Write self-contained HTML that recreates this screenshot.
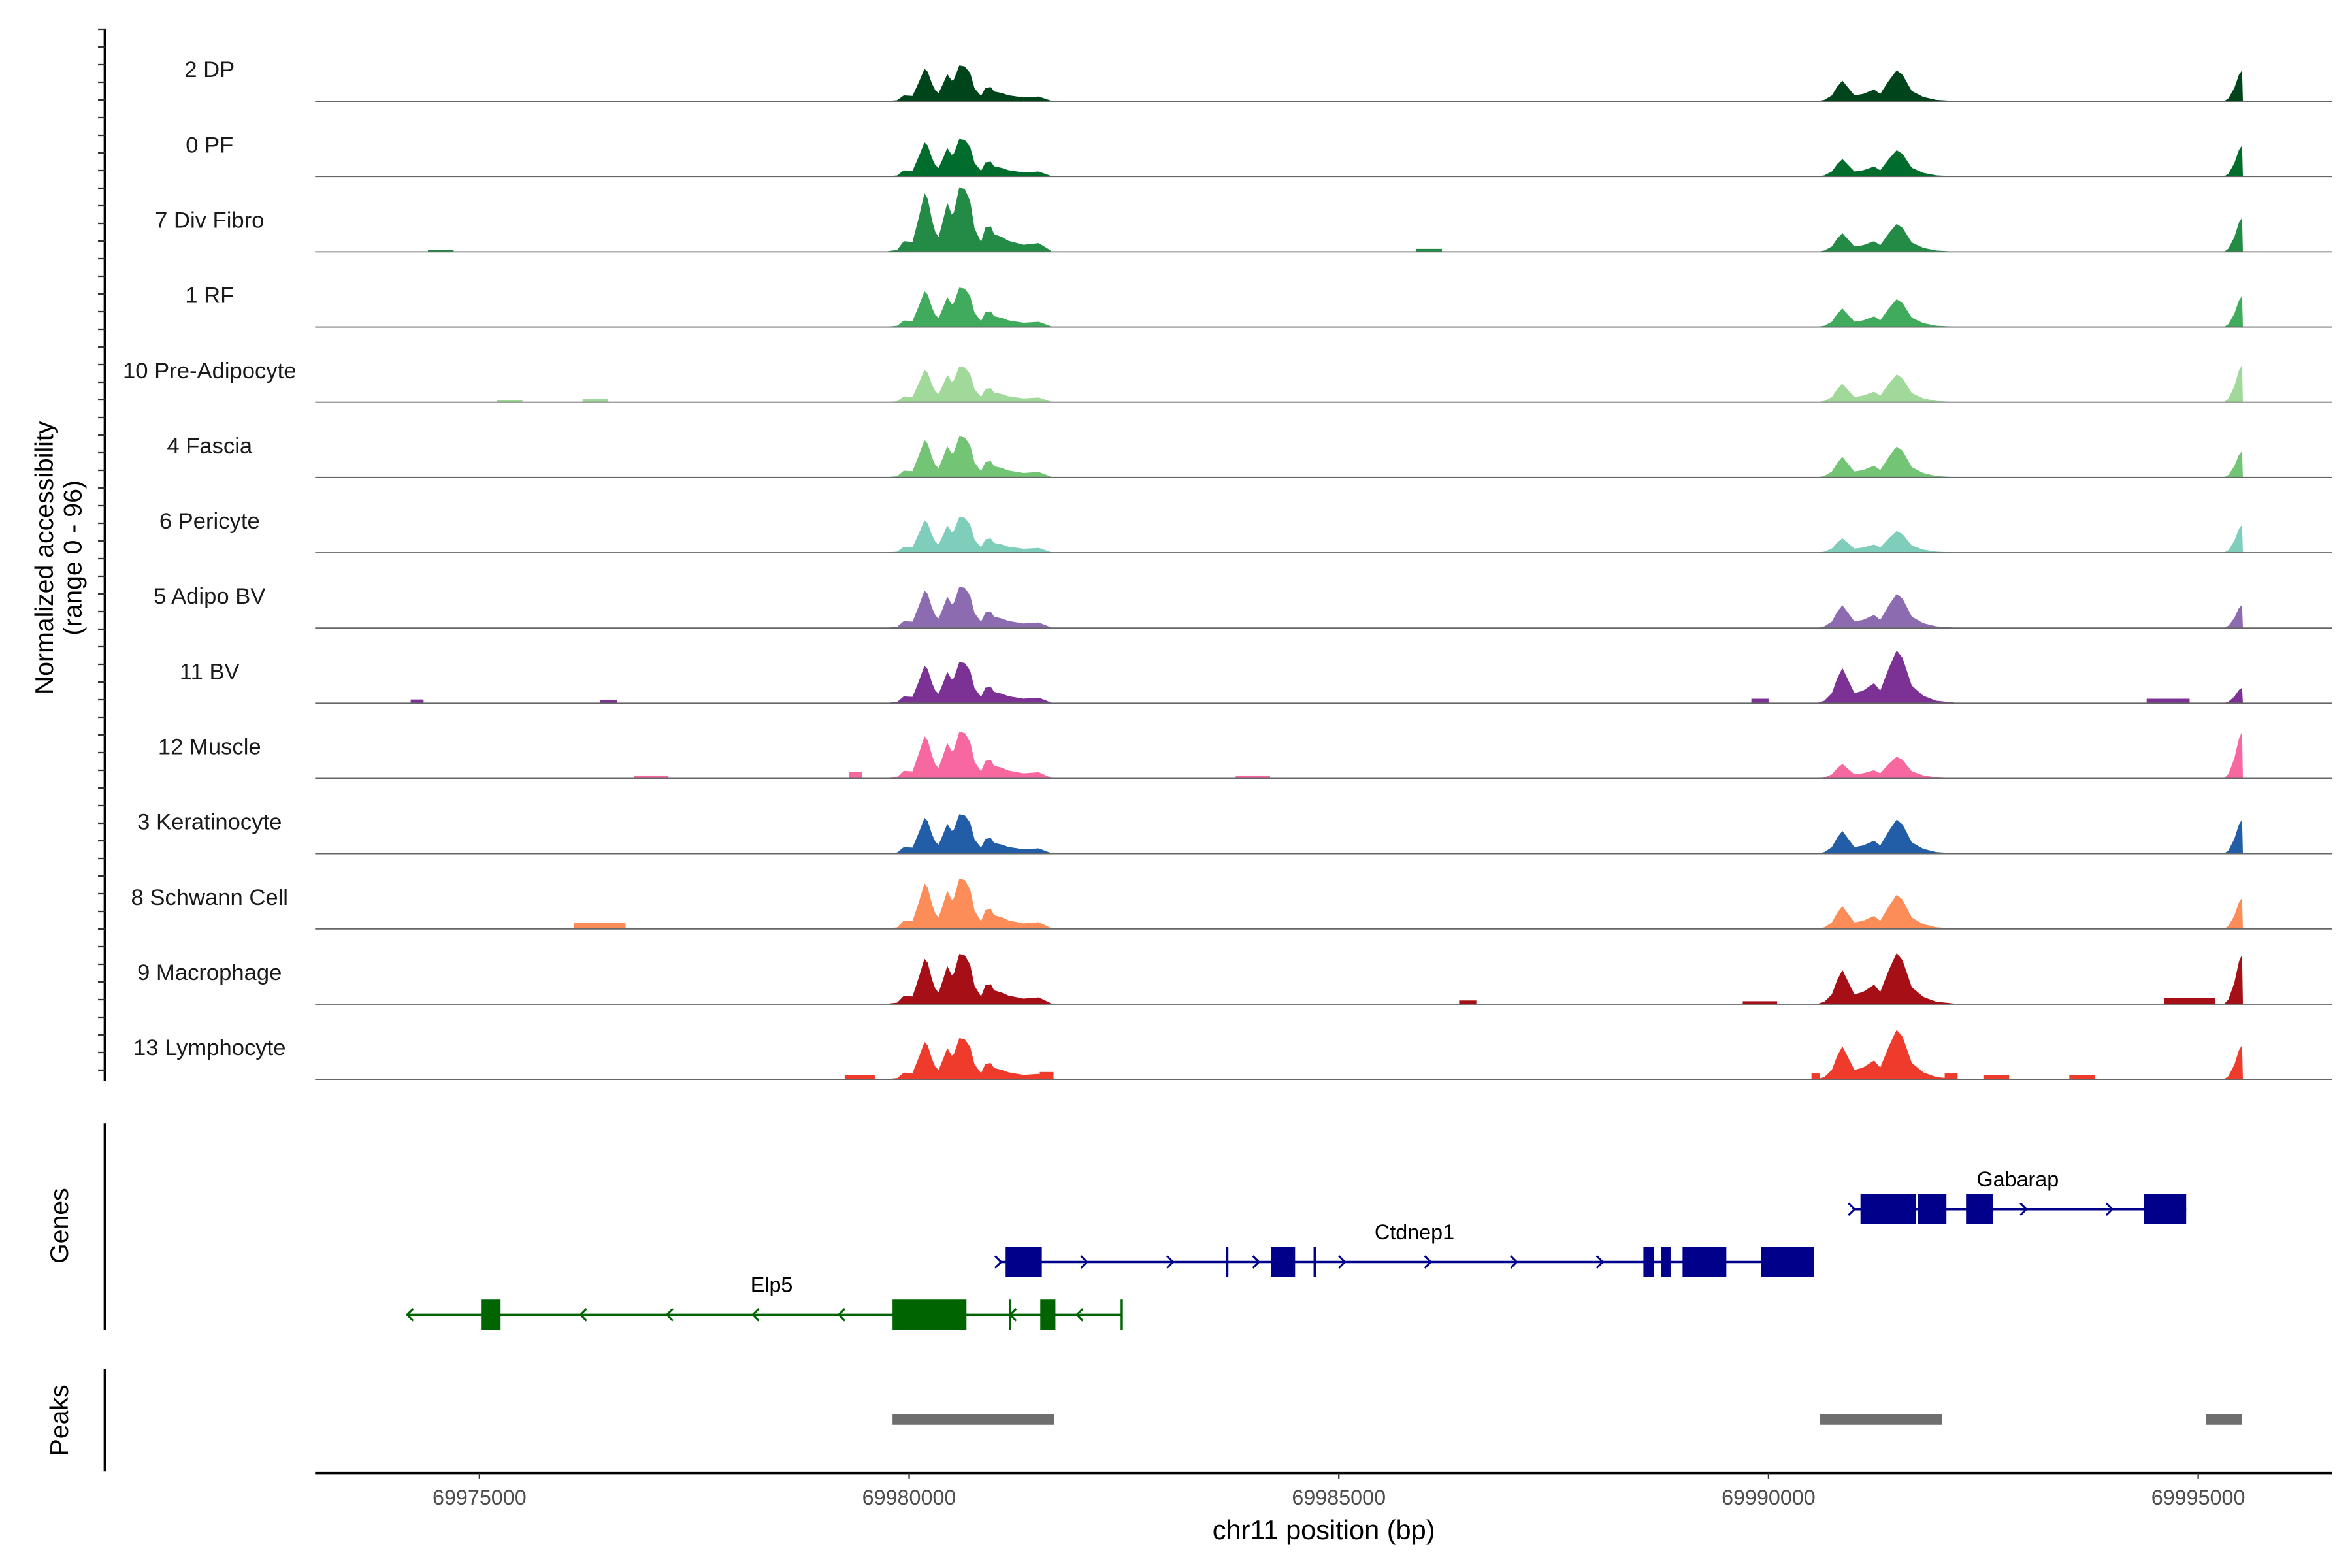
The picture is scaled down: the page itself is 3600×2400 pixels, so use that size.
<!DOCTYPE html>
<html><head><meta charset="utf-8"><style>
html,body{margin:0;padding:0;background:#fff}
svg{display:block;font-family:"Liberation Sans",Arial,sans-serif}
</style></head><body>
<svg id="chart" width="3600" height="2400" viewBox="0 0 1560 1040" xmlns="http://www.w3.org/2000/svg">
<g id="tracks"></g>
<g id="left"></g>
<g id="genes"></g>
<g id="peaks"></g>
<g id="xaxis"></g>
</svg>
<script>
const NS="http://www.w3.org/2000/svg";
// ---- data ----
const trackNames=["2 DP","0 PF","7 Div Fibro","1 RF","10 Pre-Adipocyte","4 Fascia","6 Pericyte","5 Adipo BV","11 BV","12 Muscle","3 Keratinocyte","8 Schwann Cell","9 Macrophage","13 Lymphocyte"];
const trackColors=["#00441b","#006d2c","#238b45","#41ab5d","#a1d99b","#74c476","#7fcdbb","#8c6bb1","#7b3294","#f768a1","#225ea8","#fc8d59","#a50f15","#ef3b2c"];
const cluster1Scale=[1,1.05,1.8,1.1,1.0,1.15,1.0,1.15,1.15,1.3,1.1,1.4,1.4,1.15];
const cluster2Scale=[1,0.85,0.9,0.9,0.9,1.0,0.7,1.1,1.7,0.7,1.1,1.1,1.65,1.6];
const endScale=[1,1,1.1,1,1.2,0.85,0.9,0.75,0.5,1.5,1.1,1,1.6,1.1];
const cluster1Pos=[69979700,69979861,69979937,69980039,69980115,69980178,69980216,69980267,69980305,69980343,69980394,69980444,69980495,69980520,69980584,69980647,69980710,69980761,69980837,69980888,69980951,69980989,69981078,69981154,69981331,69981508,69981635,69981661];
const cluster1Val=[0,1.5,8,7.4,26.5,44,40,23.6,14.8,11.2,23.6,37,28,29.5,48.6,47.2,38.3,17.7,7.4,18.3,19.2,13.3,11.2,8.3,5.3,6.5,1.5,0];
const cluster2Pos=[69990561,69990650,69990737,69990800,69990860,69990930,69991000,69991100,69991228,69991300,69991400,69991491,69991560,69991667,69991800,69991950,69992228];
const cluster2Val=[0,2,8,20,28,18,8,10,16,10,28,42,36,14,6,2,0];
const endPos=[69995300,69995351,69995420,69995474,69995510,69995520];
const endVal=[0,4,18,36,42,0];
// small background bumps: track index, start bp, end bp, value
const bumpTrack=[2,2,4,4,8,8,8,8,9,9,9,11,12,12,12,13,13,13,13,13,13];
const bumpStart=[69974400,69985900,69975200,69976200,69974200,69976400,69989800,69994400,69976800,69979300,69983800,69976100,69986400,69989700,69994600,69979250,69981520,69990500,69992050,69992500,69993500];
const bumpEnd=[69974700,69986200,69975500,69976500,69974350,69976600,69990000,69994900,69977200,69979450,69984200,69976700,69986600,69990100,69995200,69979600,69981680,69990600,69992200,69992800,69993800];
const bumpVal=[3,4,3,5,5,4,6,6,4,9,4,8,5,4,8,6,10,8,8,6,6];
const xTicks=[69975000,69980000,69985000,69990000,69995000];
const peakStarts=[69979807,69990596,69995088];
const peakEnds=[69981684,69992018,69995509];
const genes=[
 {name:"Elp5",color:"#006400",y:872,start:69974158,end:69982474,strand:-1,labelX:69978400,
  exonS:[69975018,69979807,69981526],exonE:[69975246,69980667,69981702],
  ticks:[69981175,69982474],arrows:[69974158,69976175,69977180,69978180,69979180,69981175,69981950]},
 {name:"Ctdnep1",color:"#00008b",y:837,start:69981070,end:69990526,strand:1,labelX:69985880,
  exonS:[69981123,69984211,69988544,69988754,69989000,69989912],exonE:[69981544,69984491,69988667,69988860,69989509,69990526],
  ticks:[69983702,69984719],arrows:[69981070,69982070,69983070,69984070,69985070,69986070,69987070,69988070]},
 {name:"Gabarap",color:"#00008b",y:802,start:69991000,end:69994860,strand:1,labelX:69992900,
  exonS:[69991070,69991737,69992298,69994368],exonE:[69991719,69992070,69992614,69994860],
  ticks:[],arrows:[69991000,69993000,69994000]}
];
// ---- scales ----
const X0=69975000,PX0=318,PXPERBP=0.057;
function xs(bp){return PX0+(bp-X0)*PXPERBP;}
const TRACK_TOP=67.2,TRACK_STEP=49.9,VSCALE=47/96;
function el(tag,attrs,parent,text){const e=document.createElementNS(NS,tag);for(const k in attrs)e.setAttribute(k,attrs[k]);if(text!=null)e.textContent=text;parent.appendChild(e);return e;}
const gT=document.getElementById("tracks");
trackNames.forEach((name,i)=>{
  const base=TRACK_TOP+i*TRACK_STEP;
  const g=el("g",{},gT);
  
  
  const segs=[[cluster1Pos,cluster1Val,cluster1Scale[i]],[cluster2Pos,cluster2Val,cluster2Scale[i]],[endPos,endVal,endScale[i]]];
  segs.forEach(([P,V,s],k)=>{
    let d="M"+xs(P[0]).toFixed(2)+","+base;
    for(let j=0;j<P.length;j++){d+=" L"+xs(P[j]).toFixed(2)+","+(base-V[j]*s*VSCALE).toFixed(2);}
    d+=" L"+xs(P[P.length-1]).toFixed(2)+","+base+"Z";
    const p=el("path",{d:d,fill:trackColors[i]},g);
    
    
  });
  bumpTrack.forEach((t,j)=>{
    if(t!==i)return;
    const r=el("rect",{x:xs(bumpStart[j]),y:base-bumpVal[j]*VSCALE,width:xs(bumpEnd[j])-xs(bumpStart[j]),height:bumpVal[j]*VSCALE,fill:trackColors[i]},g);
    
    
  });
  const l=el("line",{x1:209,x2:1547,y1:base,y2:base,stroke:"#666",'stroke-width':0.8},g);
  
  
  const t=el("text",{x:139,y:base-16,'font-size':15,'text-anchor':'middle',fill:'#1a1a1a'},g,name);
  
  
});
// left axes
const gL=document.getElementById("left");
el("line",{x1:69.5,x2:69.5,y1:19,y2:717,stroke:"#000",'stroke-width':1.5},gL);
for(let y=19.5;y<=717;y+=11.7){el("line",{x1:65,x2:69.5,y1:y,y2:y,stroke:"#333",'stroke-width':1},gL);}
const yt=el("text",{transform:"translate(35,370) rotate(-90)",'font-size':17,'text-anchor':'middle',fill:'#000'},gL,"Normalized accessibility");


const yt2=el("text",{transform:"translate(54,370) rotate(-90)",'font-size':17,'text-anchor':'middle',fill:'#000'},gL,"(range 0 - 96)");


// genes
const gG=document.getElementById("genes");
el("line",{x1:69.5,x2:69.5,y1:745,y2:882,stroke:"#000",'stroke-width':1.5},gG);
const gt=el("text",{transform:"translate(45,813) rotate(-90)",'font-size':17,'text-anchor':'middle'},gG,"Genes");


genes.forEach(g=>{
  const grp=el("g",{},gG);
  
  
  el("line",{x1:xs(g.start),x2:xs(g.end),y1:g.y,y2:g.y,stroke:g.color,'stroke-width':1.5},grp);
  g.arrows.forEach(a=>{const x=xs(a);const dx=4*g.strand;
    el("polyline",{points:(x-dx)+","+(g.y-4)+" "+x+","+g.y+" "+(x-dx)+","+(g.y+4),fill:"none",stroke:g.color,'stroke-width':1.3},grp);});
  g.ticks.forEach(a=>{el("line",{x1:xs(a),x2:xs(a),y1:g.y-10,y2:g.y+10,stroke:g.color,'stroke-width':1.5},grp);});
  g.exonS.forEach((s,j)=>{el("rect",{x:xs(s),y:g.y-10,width:xs(g.exonE[j])-xs(s),height:20,fill:g.color},grp);});
  el("text",{x:xs(g.labelX),y:g.y-15,'font-size':14,'text-anchor':'middle'},grp,g.name);
});
// peaks
const gP=document.getElementById("peaks");
el("line",{x1:69.5,x2:69.5,y1:908,y2:976,stroke:"#000",'stroke-width':1.5},gP);
const pt=el("text",{transform:"translate(45,942) rotate(-90)",'font-size':17,'text-anchor':'middle'},gP,"Peaks");


peakStarts.forEach((s,j)=>{
  const r=el("rect",{x:xs(s),y:938,width:xs(peakEnds[j])-xs(s),height:7,fill:"#6e6e6e"},gP);
  
  
});
// x axis
const gX=document.getElementById("xaxis");
el("line",{x1:209,x2:1547,y1:977,y2:977,stroke:"#000",'stroke-width':1.5},gX);
xTicks.forEach(t=>{
  const x=xs(t);
  el("line",{x1:x,x2:x,y1:977,y2:981,stroke:"#333",'stroke-width':1},gX);
  const lb=el("text",{x:x,y:998,'font-size':14,'text-anchor':'middle',fill:'#4d4d4d'},gX,String(t));
  
  
});
const xt=el("text",{x:878,y:1021,'font-size':18,'text-anchor':'middle'},gX,"chr11 position (bp)");


</script>
</body></html>
